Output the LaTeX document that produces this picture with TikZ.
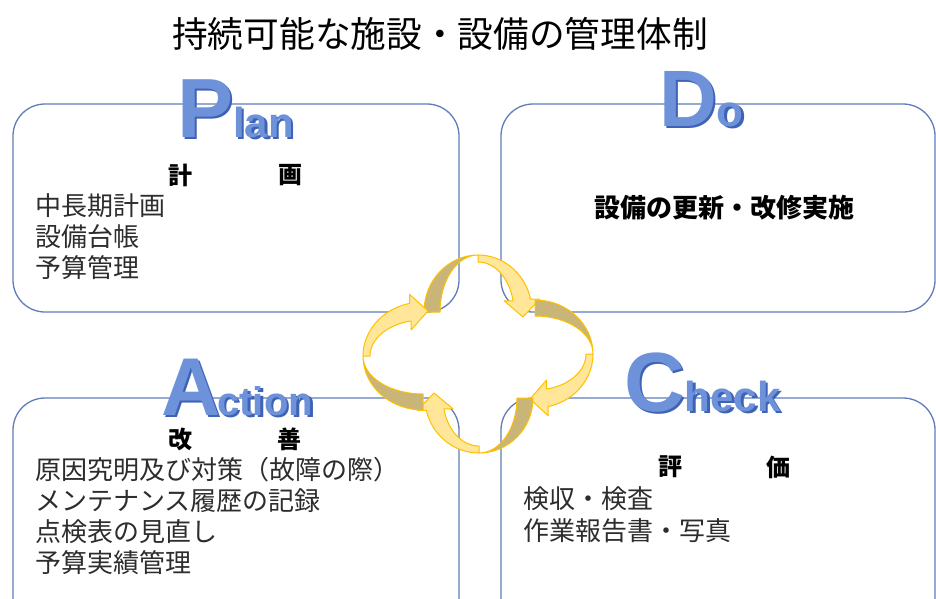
\documentclass[tikz,border=0pt]{standalone}
\usepackage{fontspec}
\setmainfont{Noto Sans CJK JP}
\newfontfamily\latb{Liberation Sans}
\usetikzlibrary{calc}
\definecolor{boxline}{RGB}{96,125,185}
\definecolor{arrlight}{RGB}{255,230,153}
\definecolor{arrdark}{RGB}{201,181,120}
\definecolor{arredge}{RGB}{255,192,0}
\definecolor{letfill}{RGB}{110,146,218}
\definecolor{letshadow}{RGB}{62,98,182}
\definecolor{textcol}{RGB}{45,45,45}
\tikzset{
  panel/.style={draw=boxline, line width=1.3pt, rounded corners=32pt, inner sep=0pt},
  txt/.style={anchor=west, inner sep=0pt, text=textcol, font=\fontsize{26}{31}\selectfont},
  head/.style={anchor=center, inner sep=0pt, text=black, font=\fontsize{24}{28}\selectfont\bfseries},
  bigl/.style={anchor=base west, inner sep=0pt, font=\latb\bfseries},
  darkband/.style={fill=arrdark, draw=arredge, line width=1pt, line join=round},
  lightband/.style={fill=arrlight, draw=arredge, line width=1pt, line join=round}
}
\newcommand\cycarrow[4]{%
  \begin{scope}[shift={(#1,#2)}, x=1pt, y=1pt, rotate=#3]
    \path[darkband] (180:54 and #4) arc[start angle=180, end angle=90, x radius=54, y radius=#4]
      arc[start angle=90, end angle=180, x radius=38, y radius=#4] -- cycle;
    \path[lightband] (90:54 and #4) arc[start angle=90, end angle=13, x radius=54, y radius=#4]
      -- ++(9,0) -- (45,-5) -- ($(13:36 and #4-7)+(-9,0)$) -- (13:36 and #4-7)
      arc[start angle=13, end angle=90, x radius=36, y radius=#4-7] -- cycle;
  \end{scope}}
\begin{document}
\begin{tikzpicture}[x=1pt, y=-1pt]
  \useasboundingbox (0,0) rectangle (936,599);
  \clip (0,0) rectangle (936,599);
  \fill[white] (0,0) rectangle (936,599);

  % title
  \node[anchor=west, inner sep=0pt, text=black, font=\fontsize{35.7}{40}\selectfont] (title) at (172,34) {持続可能な施設・設備の管理体制};

  % panels
  \node[panel, minimum width=446pt, minimum height=208pt] (plan) at (236,208) {};
  \node[panel, minimum width=434pt, minimum height=208pt] (do) at (718,208) {};
  \node[panel, minimum width=446pt, minimum height=242pt] (act) at (236,519) {};
  \node[panel, minimum width=434pt, minimum height=242pt] (check) at (718,519) {};

  % big letters
  \node[bigl, text=letshadow] (pshadow) at (179.5,139.5) {\fontsize{84}{84}\selectfont P\fontsize{42}{42}\selectfont lan};
  \node[bigl, text=letfill] (plabel) at (177,137) {\fontsize{84}{84}\selectfont P\fontsize{42}{42}\selectfont lan};
  \node[bigl, text=letshadow] (dshadow) at (661.5,128.5) {\fontsize{80}{80}\selectfont D\fontsize{44}{44}\selectfont o};
  \node[bigl, text=letfill] (dlabel) at (659,126) {\fontsize{80}{80}\selectfont D\fontsize{44}{44}\selectfont o};
  \node[bigl, text=letshadow] (ashadow) at (163.5,417.5) {\fontsize{82}{82}\selectfont A\hspace{-3pt}\fontsize{40}{40}\selectfont ction};
  \node[bigl, text=letfill] (alabel) at (161,415) {\fontsize{82}{82}\selectfont A\hspace{-3pt}\fontsize{40}{40}\selectfont ction};
  \node[bigl, text=letshadow] (cshadow) at (626.5,413.5) {\fontsize{84}{84}\selectfont C\fontsize{42}{42}\selectfont heck};
  \node[bigl, text=letfill] (clabel) at (624,411) {\fontsize{84}{84}\selectfont C\fontsize{42}{42}\selectfont heck};

  % plan texts
  \node[head] (plan-h1) at (180,175) {計};
  \node[head] (plan-h2) at (290,175) {画};
  \node[txt] (plan-1) at (35,206) {中長期計画};
  \node[txt] (plan-2) at (35,237) {設備台帳};
  \node[txt] (plan-3) at (35,268) {予算管理};

  % do text
  \node[head, font=\fontsize{26}{30}\selectfont\bfseries] (do-1) at (724,208) {設備の更新・改修実施};

  % action texts
  \node[head] (act-h1) at (180,439) {改};
  \node[head] (act-h2) at (289,439) {善};
  \node[txt] (act-1) at (35,470) {原因究明及び対策（故障の際）};
  \node[txt] (act-2) at (35,501) {メンテナンス履歴の記録};
  \node[txt] (act-3) at (35,532) {点検表の見直し};
  \node[txt] (act-4) at (35,563) {予算実績管理};

  % check texts
  \node[head] (chk-h1) at (670,467) {評};
  \node[head] (chk-h2) at (778,467) {価};
  \node[txt] (chk-1) at (523,499) {検収・検査};
  \node[txt] (chk-2) at (523,531) {作業報告書・写真};

  % cycle arrows
  \cycarrow{478}{312}{0}{57}
  \cycarrow{535}{354}{-90}{58}
  \cycarrow{479}{398}{180}{55}
  \cycarrow{423}{356}{90}{60}
\end{tikzpicture}
\end{document}
